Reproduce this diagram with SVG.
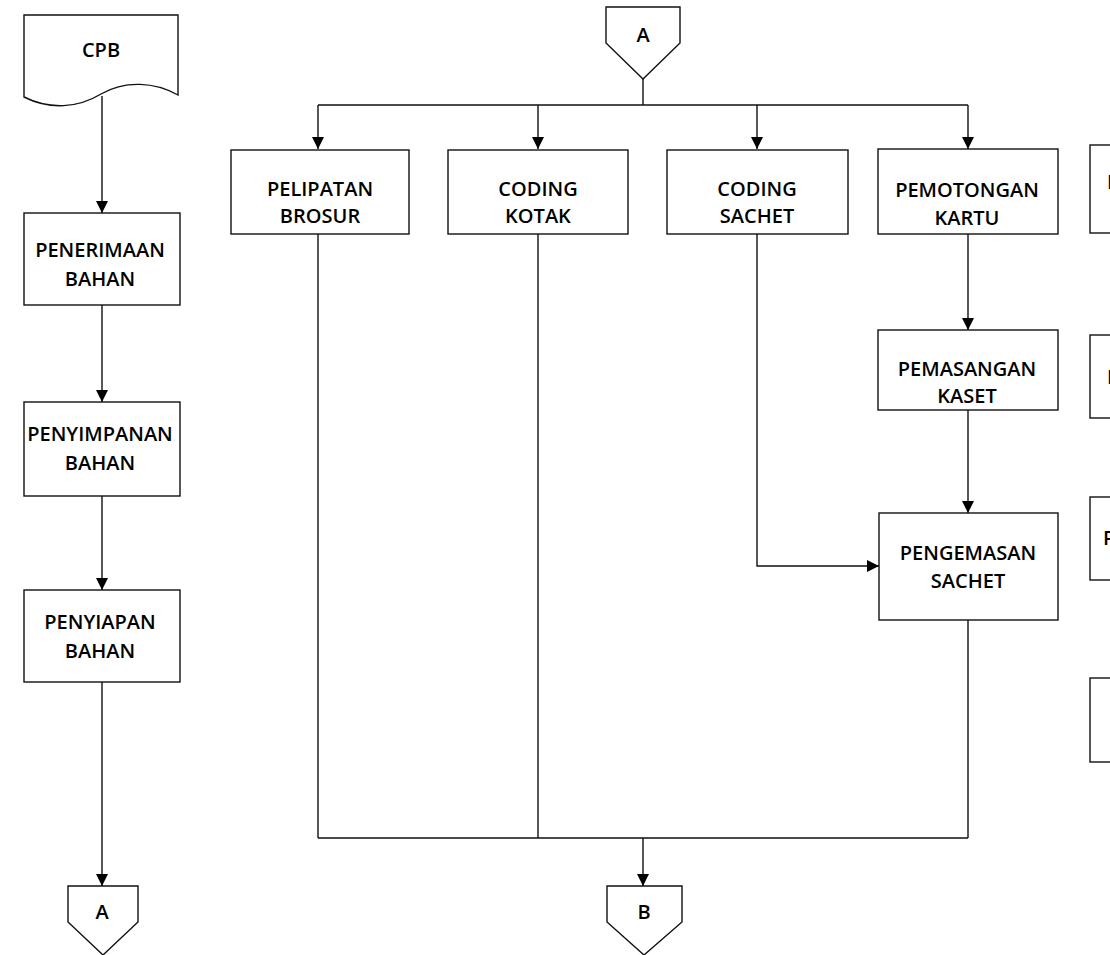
<svg xmlns="http://www.w3.org/2000/svg" width="1110" height="955" viewBox="0 0 1110 955">
<defs>
<marker id="ah" viewBox="0 0 12 12" refX="12" refY="6" markerWidth="12" markerHeight="12" markerUnits="userSpaceOnUse" orient="auto">
<path d="M0,0 L12,6 L0,12 Z" fill="#000"/>
</marker>
<style>
.box{fill:#fff;stroke:#111;stroke-width:1.4}
.ln{fill:none;stroke:#111;stroke-width:1.4}
.arr{fill:none;stroke:#111;stroke-width:1.4;marker-end:url(#ah)}
.t{font-family:"Open Sans","Liberation Sans",sans-serif;font-size:20px;font-weight:600;fill:#000;text-anchor:middle}
.s{text-anchor:start}
</style>
</defs>
<rect width="1110" height="955" fill="#fff"/>

<g id="connectors">
<path class="arr" d="M102,96 V213"/>
<path class="arr" d="M102,305 V402"/>
<path class="arr" d="M102,496 V590"/>
<path class="arr" d="M102,682 V886"/>
<path class="ln" d="M643,79 V105 M318,105 H968"/>
<path class="arr" d="M318,105 V149"/>
<path class="arr" d="M538,105 V149"/>
<path class="arr" d="M757,105 V149"/>
<path class="arr" d="M968,105 V149"/>
<path class="arr" d="M968,234 V330"/>
<path class="arr" d="M968,410 V513"/>
<path class="arr" d="M757,234 V566 H879"/>
<path class="ln" d="M318,234 V838 M538,234 V838 M968,620 V838 M318,838 H968"/>
<path class="arr" d="M643,838 V886"/>
</g>

<g id="cpb">
<path class="box" d="M24,15 H178 V95 C155,82 125,80 101,94 C78,108 50,110 24,97 Z"/>
<text class="t" x="101" y="57">CPB</text>
</g>
<g id="penerimaan">
<rect class="box" x="24" y="213" width="156" height="92"/>
<text class="t" x="100" y="257">PENERIMAAN</text>
<text class="t" x="100" y="286">BAHAN</text>
</g>
<g id="penyimpanan">
<rect class="box" x="24" y="402" width="156" height="94"/>
<text class="t" x="100" y="441">PENYIMPANAN</text>
<text class="t" x="100" y="470">BAHAN</text>
</g>
<g id="penyiapan">
<rect class="box" x="24" y="590" width="156" height="92"/>
<text class="t" x="100" y="629">PENYIAPAN</text>
<text class="t" x="100" y="658">BAHAN</text>
</g>
<g id="offpage-a-bottom">
<path class="box" d="M68,886 H138 V922 L103,955 L68,922 Z"/>
<text class="t" x="102" y="919">A</text>
</g>
<g id="offpage-a-top">
<path class="box" d="M606,7 H680 V43 L643,79 L606,43 Z"/>
<text class="t" x="643" y="42">A</text>
</g>
<g id="pelipatan">
<rect class="box" x="231" y="150" width="178" height="84"/>
<text class="t" x="320" y="196">PELIPATAN</text>
<text class="t" x="320" y="223">BROSUR</text>
</g>
<g id="coding-kotak">
<rect class="box" x="448" y="150" width="180" height="84"/>
<text class="t" x="538" y="196">CODING</text>
<text class="t" x="538" y="223">KOTAK</text>
</g>
<g id="coding-sachet">
<rect class="box" x="667" y="150" width="181" height="84"/>
<text class="t" x="757" y="196">CODING</text>
<text class="t" x="757" y="223">SACHET</text>
</g>
<g id="pemotongan">
<rect class="box" x="878" y="149" width="180" height="85"/>
<text class="t" x="967" y="197">PEMOTONGAN</text>
<text class="t" x="967" y="225">KARTU</text>
</g>
<g id="pemasangan">
<rect class="box" x="878" y="330" width="180" height="80"/>
<text class="t" x="967" y="376">PEMASANGAN</text>
<text class="t" x="967" y="403">KASET</text>
</g>
<g id="pengemasan">
<rect class="box" x="879" y="513" width="179" height="107"/>
<text class="t" x="968" y="560">PENGEMASAN</text>
<text class="t" x="968" y="588">SACHET</text>
</g>
<g id="offpage-b">
<path class="box" d="M607,886 H682 V922 L644,955 L607,922 Z"/>
<text class="t" x="644" y="919">B</text>
</g>
<g id="right-box-1">
<rect class="box" x="1090" y="145" width="40" height="88"/>
<text class="t s" x="1107" y="189">P</text>
</g>
<g id="right-box-2">
<rect class="box" x="1090" y="335" width="40" height="83"/>
<text class="t s" x="1107" y="384">P</text>
</g>
<g id="right-box-3">
<rect class="box" x="1090" y="497" width="40" height="83"/>
<text class="t s" x="1103" y="545">P</text>
</g>
<g id="right-box-4">
<rect class="box" x="1090" y="678" width="40" height="84"/>
</g>
</svg>
